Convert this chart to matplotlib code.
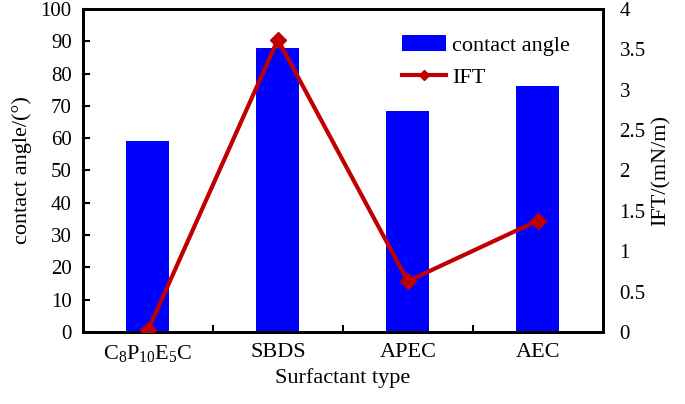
import matplotlib
matplotlib.use("Agg")
import matplotlib.pyplot as plt
import numpy as np

plt.rcParams['font.family'] = ['Liberation Serif', 'DejaVu Serif']
plt.rcParams['mathtext.fontset'] = 'custom'
plt.rcParams['mathtext.rm'] = 'Liberation Serif'
plt.rcParams['mathtext.it'] = 'Liberation Serif:italic'

# data
categories = [r'$\mathrm{C_8P_{10}E_5C}$', 'SBDS', 'APEC', 'AEC']
contact_angle = [59.1, 87.9, 68.5, 76.2]
ift = [0.02, 3.62, 0.63, 1.38]

x = np.arange(len(categories))

fig = plt.figure(figsize=(6.85, 4.04), dpi=100)
ax = fig.add_axes([0.121, 0.178, 0.759, 0.8])

bars = ax.bar(x, contact_angle, width=0.33, color='#0000FF', label='contact angle', zorder=2)
ax.set_xlim(-0.5, 3.5)
ax.set_ylim(0, 100)
ax.set_yticks(np.arange(0, 101, 10))
ax.set_xticks(x)
ax.set_xticklabels(categories)
ax.set_xticks(x[:-1] + 0.5, minor=True)
ax.tick_params(axis='x', which='major', length=0, pad=8, labelsize=16)
ax.tick_params(axis='x', which='minor', direction='in', length=5, width=1.5)
ax.tick_params(axis='y', direction='in', length=5, width=1.5, labelsize=15, pad=8)
ax.set_ylabel('contact angle/(°)', fontsize=16, labelpad=6)
ax.set_xlabel('Surfactant type', fontsize=16, labelpad=3)
for s in ax.spines.values():
    s.set_linewidth(2)

ax2 = ax.twinx()
line, = ax2.plot(x, ift, color='#C00000', lw=3, marker='D', markersize=8, label='IFT', zorder=3)
ax2.set_ylim(0, 4)
ax2.set_yticks(np.arange(0, 4.01, 0.5))
ax2.set_yticklabels(['0', '0.5', '1', '1.5', '2', '2.5', '3', '3.5', '4'])
ax2.tick_params(axis='y', length=0, labelsize=15, pad=12)
ax2.set_ylabel('IFT/(mN/m)', fontsize=16)
for s in ax2.spines.values():
    s.set_linewidth(2)

leg = ax2.legend([bars, line], ['contact angle', 'IFT'], loc='upper left',
                 bbox_to_anchor=(0.575, 0.98), frameon=False, fontsize=16,
                 handlelength=2.0, handletextpad=0.25, labelspacing=0.5)
leg.legend_handles[1].set_markersize(5)

fig.savefig('out.png', dpi=100)
